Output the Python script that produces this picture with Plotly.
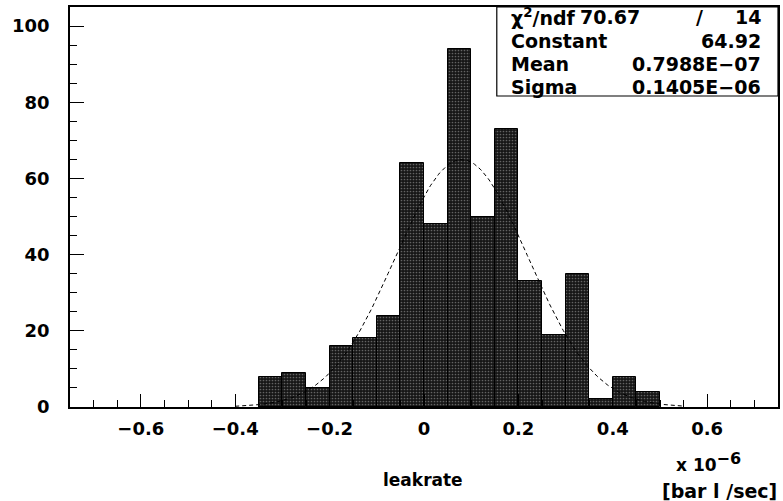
import plotly.graph_objects as go
import numpy as np

# Histogram of leak rates (units of 1e-6 bar l / sec)
bin_width = 0.05
bin_low_edges = [-0.35, -0.30, -0.25, -0.20, -0.15, -0.10, -0.05, 0.00, 0.05,
                 0.10, 0.15, 0.20, 0.25, 0.30, 0.35, 0.40, 0.45]
counts = [8, 9, 5, 16, 18, 24, 64, 48, 94, 50, 73, 33, 19, 35, 2, 8, 4]

# Gaussian fit parameters (from stats box)
fit_constant = 64.92
fit_mean = 0.7988e-07 * 1e6
fit_sigma = 0.1405e-06 * 1e6
fit_range = [-0.40, 0.55]

stats_labels = ["χ<sup>2</sup>/ndf", "Constant", "Mean", "Sigma"]
stats_values = ["70.67", "64.92", "0.7988E−07", "0.1405E−06"]

x_ticks = [-0.6, -0.4, -0.2, 0, 0.2, 0.4, 0.6]
y_ticks = [0, 20, 40, 60, 80, 100]

FONT = "DejaVu Sans"

centers = [e + bin_width / 2 for e in bin_low_edges]
fx = np.linspace(fit_range[0], fit_range[1], 400)
fy = fit_constant * np.exp(-0.5 * ((fx - fit_mean) / fit_sigma) ** 2)

fig = go.Figure()
fig.add_trace(go.Bar(
    x=centers, y=counts, width=bin_width,
    marker=dict(color="#222222", line=dict(color="black", width=1),
                pattern=dict(shape=".", fgcolor="#b0b0b0", bgcolor="#161616",
                             size=3, solidity=0.25)),
    showlegend=False, hoverinfo="skip"))
fig.add_trace(go.Scatter(
    x=fx, y=fy, mode="lines",
    line=dict(color="black", width=1, dash="4px,3px"),
    showlegend=False, hoverinfo="skip"))

axis_common = dict(showgrid=False, zeroline=False, showline=True, linecolor="black",
                   linewidth=1.5, mirror=True, ticks="inside", tickcolor="black",
                   tickwidth=1.2,
                   tickfont=dict(family=FONT, size=18, color="black", weight="bold"))

fig.update_xaxes(range=[-0.75, 0.75], tickvals=x_ticks, ticklen=13,
                 minor=dict(dtick=0.05, tick0=0, ticks="inside", ticklen=7,
                            tickcolor="black", tickwidth=1),
                 ticklabelstandoff=5, **axis_common)
fig.update_yaxes(range=[0, 105], tickvals=y_ticks, ticklen=14,
                 minor=dict(dtick=5, tick0=0, ticks="inside", ticklen=7,
                            tickcolor="black", tickwidth=1),
                 ticklabelstandoff=15, **axis_common)

fig.update_layout(
    width=783, height=501,
    margin=dict(l=70, r=3, t=7, b=94),
    plot_bgcolor="white", paper_bgcolor="white",
    bargap=0,
    font=dict(family=FONT, color="black"),
)


def px(xp):
    return (xp - 70) / 710


def py(yp):
    return (407 - yp) / 400


# Stats box
fig.add_shape(type="rect", xref="paper", yref="paper",
              x0=px(498), x1=1.0, y0=py(96), y1=1.0,
              line=dict(color="black", width=1.2), fillcolor="white", layer="above")
stat_font = dict(family=FONT, size=19, color="black", weight="bold")
row_y = [17, 41, 64, 87]
for lab, val, ry in zip(stats_labels, stats_values, row_y):
    fig.add_annotation(xref="paper", yref="paper", x=px(510), y=py(ry),
                       text=lab, showarrow=False, xanchor="left", yanchor="middle",
                       font=stat_font)
    if lab.startswith("χ"):
        fig.add_annotation(xref="paper", yref="paper", x=px(644), y=py(ry),
                           text=val, showarrow=False, xanchor="right", yanchor="middle",
                           font=stat_font)
        fig.add_annotation(xref="paper", yref="paper", x=px(701), y=py(ry),
                           text="/", showarrow=False, xanchor="center", yanchor="middle",
                           font=stat_font)
        fig.add_annotation(xref="paper", yref="paper", x=px(765), y=py(ry),
                           text="14", showarrow=False, xanchor="right", yanchor="middle",
                           font=stat_font)
    else:
        fig.add_annotation(xref="paper", yref="paper", x=px(765), y=py(ry),
                           text=val, showarrow=False, xanchor="right", yanchor="middle",
                           font=stat_font)

# Axis titles
fig.add_annotation(xref="paper", yref="paper", x=px(424), y=py(480),
                   text="leakrate", showarrow=False, xanchor="center", yanchor="middle",
                   font=dict(family=FONT, size=17, color="black", weight="bold"))
fig.add_annotation(xref="paper", yref="paper", x=px(676), y=py(462),
                   text="x 10<sup><span style='font-size:16px'>−6</span></sup>",
                   showarrow=False, xanchor="left", yanchor="middle",
                   font=dict(family=FONT, size=17, color="black", weight="bold"))
fig.add_annotation(xref="paper", yref="paper", x=px(781), y=py(491),
                   text="[bar l /sec]", showarrow=False, xanchor="right", yanchor="middle",
                   font=dict(family=FONT, size=19, color="black", weight="bold"))

fig.write_html("out.html")
